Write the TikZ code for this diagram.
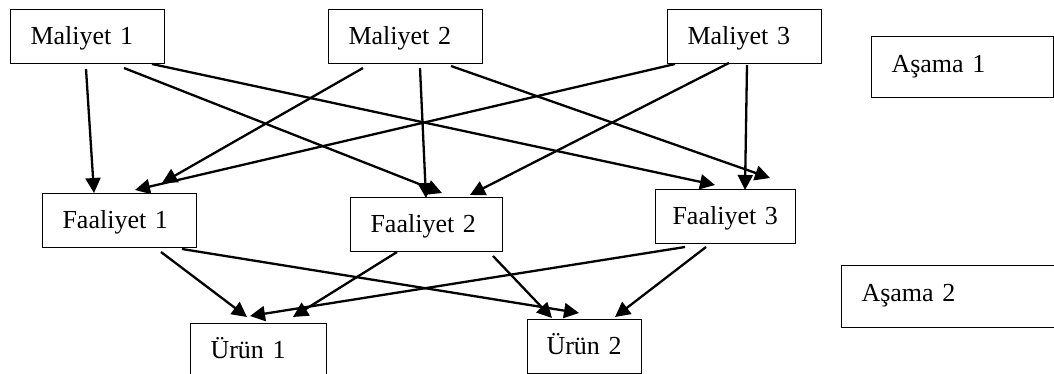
\documentclass[tikz,border=0pt]{standalone}
\usepackage{fontspec}
\setmainfont{Liberation Serif}
\usetikzlibrary{arrows.meta}
\begin{document}
\begin{tikzpicture}[x=1pt,y=-1pt,
  box/.style={draw,line width=1pt,anchor=north west,inner xsep=20pt,inner ysep=0pt,
    text height=35pt,text depth=19pt,align=left,
    font=\fontsize{26}{30}\selectfont},
  stagebox/.style={box,text height=36pt,text depth=25pt},
  flow/.style={line width=2.3pt,-{Triangle[length=15pt,width=15pt]}}]
\useasboundingbox (0,0) rectangle (1054,374);
% cost pools
\node[box,text width=114pt] (m1) at (10,9) {Maliyet 1};
\node[box,text width=114pt] (m2) at (328,9) {Maliyet 2};
\node[box,text width=114pt] (m3) at (667,9) {Maliyet 3};
% activities
\node[box,text width=114pt] (f1) at (42,193) {Faaliyet 1};
\node[box,text width=112pt] (f2) at (350,197) {Faaliyet 2};
\node[box,inner xsep=17pt,text width=106pt] (f3) at (655,189) {Faaliyet 3};
% products
\node[box,text width=96pt] (u1) at (190,323) {Ürün 1};
\node[box,inner xsep=19pt,text width=76pt] (u2) at (527,319) {Ürün 2};
% stage labels
\node[stagebox,text width=142pt] (a1) at (871,36) {Aşama 1};
\node[stagebox,text width=180pt,text depth=26pt] (a2) at (841,265) {Aşama 2};
% stage 1: costs to activities
\draw[flow] ([shift={(76,5)}]m1.south west) -- ([shift={(52,0)}]f1.north west);
\draw[flow] ([shift={(114,4)}]m1.south west) -- ([shift={(92,-4)}]f2.north west);
\draw[flow] ([shift={(142,0)}]m1.south west) -- ([shift={(60,-4)}]f3.north west);
\draw[flow] ([shift={(35,4)}]m2.south west) -- ([shift={(120,-10)}]f1.north west);
\draw[flow] ([shift={(92,4)}]m2.south west) -- ([shift={(76,1)}]f2.north west);
\draw[flow] ([shift={(123,2)}]m2.south west) -- ([shift={(115,-11)}]f3.north west);
\draw[flow] ([shift={(8,0)}]m3.south west) -- ([shift={(93,-3)}]f1.north west);
\draw[flow] ([shift={(62,-1)}]m3.south west) -- ([shift={(120,-2)}]f2.north west);
\draw[flow] ([shift={(80,1)}]m3.south west) -- ([shift={(90,1)}]f3.north west);
% stage 2: activities to products
\draw[flow] ([shift={(119,4)}]f1.south west) -- ([shift={(57,-6)}]u1.north west);
\draw[flow] ([shift={(140,1)}]f1.south west) -- ([shift={(52,-6)}]u2.north west);
\draw[flow] ([shift={(47,0)}]f2.south west) -- ([shift={(103,-6)}]u1.north west);
\draw[flow] ([shift={(143,4)}]f2.south west) -- ([shift={(25,-1)}]u2.north west);
\draw[flow] ([shift={(30,3)}]f3.south west) -- ([shift={(60,-7)}]u1.north west);
\draw[flow] ([shift={(51,3)}]f3.south west) -- ([shift={(88,-2)}]u2.north west);
\end{tikzpicture}
\end{document}
